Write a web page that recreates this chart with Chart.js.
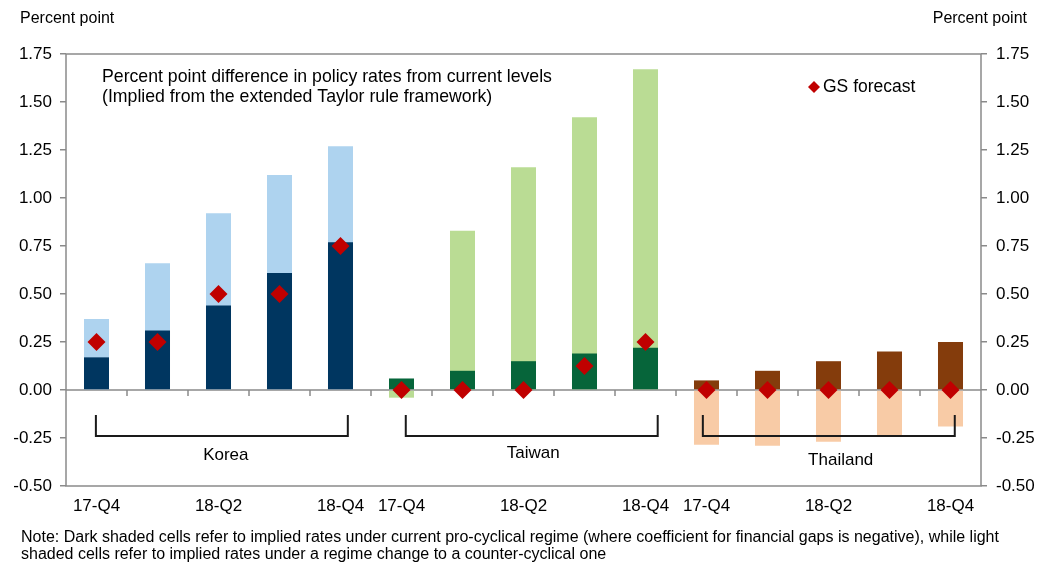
<!DOCTYPE html>
<html>
<head>
<meta charset="utf-8">
<script src="https://cdn.jsdelivr.net/npm/chart.js@4/dist/chart.umd.min.js"></script>
<style>
  html, body { margin: 0; padding: 0; background: #ffffff; }
  #wrap { width: 1039px; height: 562px; }
</style>
</head>
<body>
<div id="wrap"><canvas id="chart" width="1039" height="562"></canvas></div>
<script>
// Quarters shown for each economy
const quarters = ['17-Q4', '18-Q1', '18-Q2', '18-Q3', '18-Q4'];
const countries = ['Korea', 'Taiwan', 'Thailand'];
const categories = countries.flatMap(c => quarters.map(q => q));

// Implied change under current pro-cyclical regime (dark bars)
const procyclical = [0.17, 0.31, 0.44, 0.61, 0.77,
                     0.06, 0.10, 0.15, 0.19, 0.22,
                     0.05, 0.10, 0.15, 0.20, 0.25];
// Implied change under a counter-cyclical regime (light bars)
const countercyclical = [0.37, 0.66, 0.92, 1.12, 1.27,
                         -0.04, 0.83, 1.16, 1.42, 1.67,
                         -0.285, -0.29, -0.27, -0.24, -0.19];
// GS forecast
const gsForecast = [0.25, 0.25, 0.50, 0.50, 0.75,
                    0.00, 0.00, 0.00, 0.125, 0.25,
                    0.00, 0.00, 0.00, 0.00, 0.00];

// Y-axis range
const yMin = -0.5, yMax = 1.75, yStep = 0.25;

const darkColors = ['#003660', '#06653a', '#843c0c'];
const lightColors = ['#aed3ef', '#badc94', '#f8cba6'];
const perBar = (cols) => categories.map((_, i) => cols[Math.floor(i / quarters.length)]);

// Brackets grouping each economy: [start index, end index], in category units
const bracketSpans = [[-0.01, 4.12], [5.07, 9.2], [9.94, 14.07]];
const bracketTop = -0.13, bracketBottom = -0.24;
const groupLabelX = [2.12, 7.16, 12.2];
const groupLabelY = [-0.34, -0.33, -0.365];

const FONT = '"Liberation Sans", Arial, Helvetica, sans-serif';
const AXIS_GREY = '#8a8a8a';

const decorations = {
  id: 'decorations',
  beforeDatasetsDraw(chart) {
    const { ctx, chartArea: a, scales: { x, y } } = chart;
    ctx.save();
    // plot frame
    ctx.strokeStyle = AXIS_GREY;
    ctx.lineWidth = 1.5;
    ctx.strokeRect(a.left, a.top, a.right - a.left, a.bottom - a.top);
    // zero line with category tick marks
    const y0 = y.getPixelForValue(0);
    ctx.beginPath();
    ctx.moveTo(a.left, y0);
    ctx.lineTo(a.right, y0);
    for (let i = 1; i < categories.length; i++) {
      const xb = (x.getPixelForValue(i - 1) + x.getPixelForValue(i)) / 2;
      ctx.moveTo(xb, y0);
      ctx.lineTo(xb, y0 + 6);
    }
    ctx.stroke();
    ctx.restore();
  },
  afterDraw(chart) {
    const { ctx, chartArea: a, scales: { x, y } } = chart;
    const px = v => {
      const lo = Math.floor(v), hi = Math.ceil(v);
      const pl = x.getPixelForValue(lo), ph = x.getPixelForValue(hi);
      return lo === hi ? pl : pl + (ph - pl) * (v - lo);
    };
    ctx.save();
    ctx.fillStyle = '#000000';
    ctx.textBaseline = 'middle';

    // axis units
    ctx.font = '16px ' + FONT;
    ctx.textAlign = 'left';
    ctx.fillText('Percent point', 20, 19);
    ctx.textAlign = 'right';
    ctx.fillText('Percent point', 1027, 19);

    // in-plot heading
    ctx.font = '17.7px ' + FONT;
    ctx.textAlign = 'left';
    ctx.fillText('Percent point difference in policy rates from current levels', a.left + 36, 77);
    ctx.fillText('(Implied from the extended Taylor rule framework)', a.left + 36, 97);

    // legend
    const lx = 814, ly = 87, lr = 6;
    ctx.fillStyle = '#c00000';
    ctx.beginPath();
    ctx.moveTo(lx, ly - lr);
    ctx.lineTo(lx + lr, ly);
    ctx.lineTo(lx, ly + lr);
    ctx.lineTo(lx - lr, ly);
    ctx.closePath();
    ctx.fill();
    ctx.fillStyle = '#000000';
    ctx.font = '17.5px ' + FONT;
    ctx.textAlign = 'left';
    ctx.fillText('GS forecast', lx + 9, ly);

    // brackets and economy names
    ctx.strokeStyle = '#1a1a1a';
    ctx.lineWidth = 2;
    const yt = y.getPixelForValue(bracketTop), yb = y.getPixelForValue(bracketBottom);
    bracketSpans.forEach(([s, e], k) => {
      const xs = px(s), xe = px(e);
      ctx.beginPath();
      ctx.moveTo(xs, yt);
      ctx.lineTo(xs, yb);
      ctx.lineTo(xe, yb);
      ctx.lineTo(xe, yt);
      ctx.stroke();
      ctx.font = '17px ' + FONT;
      ctx.textAlign = 'center';
      ctx.fillText(countries[k], px(groupLabelX[k]), y.getPixelForValue(groupLabelY[k]));
    });

    // note
    ctx.font = '16px ' + FONT;
    ctx.textAlign = 'left';
    ctx.fillText('Note: Dark shaded cells refer to implied rates under current pro-cyclical regime (where coefficient for financial gaps is negative), while light', 21, 538);
    ctx.fillText('shaded cells refer to implied rates under a regime change to a counter-cyclical one', 21, 555);
    ctx.restore();
  }
};

const yTicks = {
  min: yMin, max: yMax,
  ticks: {
    stepSize: yStep,
    color: '#000000',
    font: { family: FONT, size: 17 },
    callback: v => Number(v).toFixed(2)
  },
  grid: { drawOnChartArea: false, drawTicks: true, tickLength: 6, color: AXIS_GREY, lineWidth: 1.5 },
  border: { display: false }
};

new Chart(document.getElementById('chart'), {
  type: 'bar',
  data: {
    labels: categories,
    datasets: [
      {
        type: 'line',
        label: 'GS forecast',
        data: gsForecast,
        showLine: false,
        pointStyle: 'rectRot',
        pointRadius: 9,
        pointHoverRadius: 9,
        pointBackgroundColor: '#c00000',
        pointBorderWidth: 0,
        borderColor: '#c00000',
        order: 0,
        yAxisID: 'y'
      },
      {
        label: 'Current pro-cyclical regime',
        data: procyclical,
        backgroundColor: perBar(darkColors),
        grouped: false,
        barPercentage: 0.41,
        categoryPercentage: 1,
        order: 1,
        yAxisID: 'y'
      },
      {
        label: 'Counter-cyclical regime',
        data: countercyclical,
        backgroundColor: perBar(lightColors),
        grouped: false,
        barPercentage: 0.41,
        categoryPercentage: 1,
        order: 2,
        yAxisID: 'y'
      }
    ]
  },
  options: {
    responsive: false,
    animation: false,
    layout: { padding: { top: 54, bottom: 42, left: 0, right: 0 } },
    plugins: { legend: { display: false }, tooltip: { enabled: false } },
    scales: {
      x: {
        offset: true,
        grid: { display: false, drawTicks: false },
        border: { display: false },
        ticks: {
          autoSkip: false,
          maxRotation: 0,
          padding: 10,
          color: '#000000',
          font: { family: FONT, size: 17 },
          callback: (v, i) => (i % quarters.length) % 2 === 0 ? categories[i] : ''
        },
        afterFit: s => { s.height = 34; }
      },
      y: Object.assign({ position: 'left', afterFit: s => { s.width = 66; } }, yTicks,
        { ticks: Object.assign({}, yTicks.ticks, { padding: 8 }) }),
      y2: Object.assign({ position: 'right', afterFit: s => { s.width = 58; } }, yTicks,
        { ticks: Object.assign({}, yTicks.ticks, { padding: 9 }) })
    }
  },
  plugins: [decorations]
});
</script>
</body>
</html>
